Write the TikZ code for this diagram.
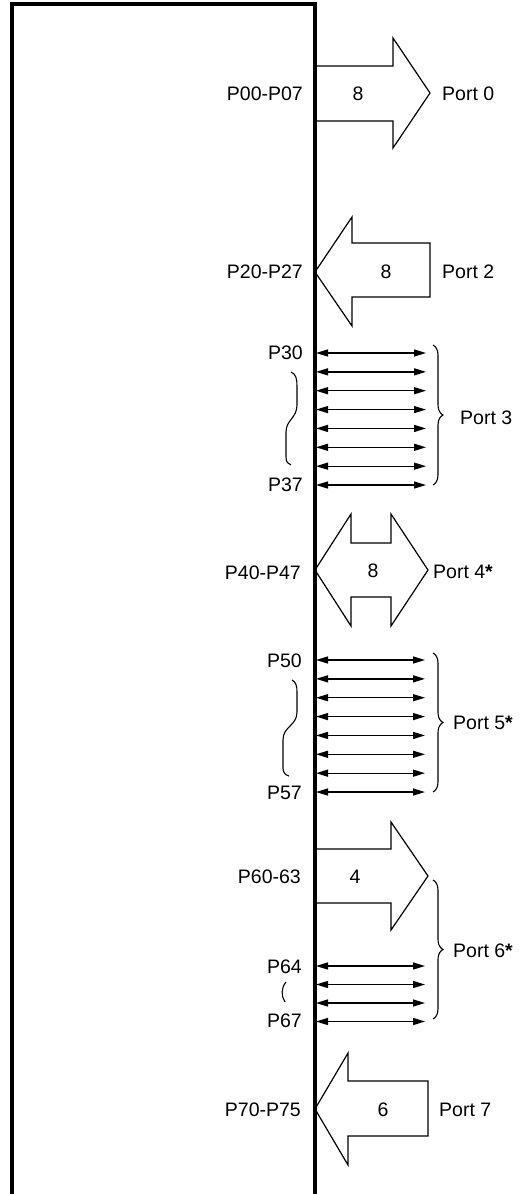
\documentclass[tikz,border=0pt]{standalone}
\usepackage{fontspec}
\setmainfont{Liberation Sans}
\usetikzlibrary{arrows.meta,decorations.pathreplacing}
\begin{document}
\begin{tikzpicture}[x=1bp,y=-1bp,
  lbl/.style={font=\fontsize{19.5bp}{23bp}\selectfont, inner sep=0pt},
  pinlbl/.style={lbl, anchor=east},
  portlbl/.style={lbl, anchor=west},
  numlbl/.style={lbl, anchor=center},
  bus/.style={line width=1.2bp, line join=miter},
  bidir/.style={line width=1.3bp, {Triangle[length=12bp,width=7bp]}-{Triangle[length=12bp,width=7bp]}},
  rbrace/.style={line width=1.1bp, decorate, decoration={brace, amplitude=10bp}},
  squig/.style={line width=1.1bp}]
\useasboundingbox (0,0) rectangle (522,1194);
% chip outline (open at the bottom)
\coordinate (chipBL) at (12,1200);
\coordinate (chipTL) at (12,4);
\coordinate (chipTR) at (315,4);
\coordinate (chipBR) at (315,1200);
\draw[line width=3.2bp] (chipBL) -- (chipTL) -- (chipTR) -- (chipBR);

% Port 0 : output bus
\draw[bus] (315,66) -- (393,66) -- (393,38) -- (430,93) -- (393,148) -- (393,121) -- (315,121);
\node[pinlbl] (p0pin) at (303,94) {P00-P07};
\node[numlbl] (p0num) at (358,94) {8};
\node[portlbl] (p0) at (442,94) {Port 0};

% Port 2 : input bus
\draw[bus] (315,272) -- (352,217) -- (352,243) -- (430,243) -- (430,297) -- (352,297) -- (352,326) -- cycle;
\node[pinlbl] (p2pin) at (303,272) {P20-P27};
\node[numlbl] (p2num) at (386,272) {8};
\node[portlbl] (p2) at (442,272) {Port 2};

% Port 3 : eight bidirectional lines
\foreach \i in {0,...,7}{
  \coordinate (p3l\i) at (316,353+18.86*\i);
  \coordinate (p3r\i) at (426,353+18.86*\i);
  \draw[bidir] (p3l\i) -- (p3r\i);
}
\node[pinlbl] (p30) at (303,353) {P30};
\node[pinlbl] (p37) at (303,485) {P37};
\draw[squig] (291,372) .. controls (296,374) and (297,379) .. (297,386) -- (297,405) .. controls (297,418) and (286,420) .. (286,432) -- (286,457) .. controls (286,462) and (288,464) .. (291,465);
\coordinate (b3t) at (433,345);
\coordinate (b3b) at (433,485);
\draw[rbrace] (b3t) -- (b3b);
\node[portlbl] (p3) at (460,418) {Port 3};

% Port 4 : bidirectional bus
\draw[bus] (315,570) -- (351,514) -- (351,543) -- (391,543) -- (391,514) -- (428,570) -- (391,626) -- (391,597) -- (351,597) -- (351,626) -- cycle;
\node[pinlbl] (p4pin) at (301,573) {P40-P47};
\node[numlbl] (p4num) at (373,571) {8};
\node[portlbl] (p4) at (433,572) {Port 4\textbf{*}};

% Port 5 : eight bidirectional lines
\foreach \i in {0,...,7}{
  \coordinate (p5l\i) at (316,660+18.86*\i);
  \coordinate (p5r\i) at (425,660+18.86*\i);
  \draw[bidir] (p5l\i) -- (p5r\i);
}
\node[pinlbl] (p50) at (302,661) {P50};
\node[pinlbl] (p57) at (302,793) {P57};
\draw[squig] (292,680) .. controls (296,682) and (297,686) .. (297,692) -- (297,712) .. controls (297,726) and (283,726) .. (283,740) -- (283,768) .. controls (283,772) and (285,775) .. (289,776);
\coordinate (b5t) at (433,653);
\coordinate (b5b) at (433,792);
\draw[rbrace] (b5t) -- (b5b);
\node[portlbl] (p5) at (453,723) {Port 5\textbf{*}};

% Port 6 : 4-bit output bus + four bidirectional lines
\draw[bus] (315,849) -- (391,849) -- (391,822) -- (428,876) -- (391,930) -- (391,903) -- (315,903);
\node[pinlbl] (p6pin) at (301,877) {P60-63};
\node[numlbl] (p6num) at (355,877) {4};
\foreach \i in {0,...,3}{
  \coordinate (p6l\i) at (316,966+18.5*\i);
  \coordinate (p6r\i) at (425,966+18.5*\i);
  \draw[bidir] (p6l\i) -- (p6r\i);
}
\node[pinlbl] (p64) at (302,967) {P64};
\node[pinlbl] (p67) at (302,1021) {P67};
\draw[squig] (286,982) .. controls (281,988) and (281,996) .. (285,1002);
\coordinate (b6t) at (433,880);
\coordinate (b6b) at (433,1019);
\draw[rbrace] (b6t) -- (b6b);
\node[portlbl] (p6) at (453,951) {Port 6\textbf{*}};

% Port 7 : input bus
\draw[bus] (315,1109) -- (348,1053) -- (348,1081) -- (428,1081) -- (428,1136) -- (348,1136) -- (348,1165) -- cycle;
\node[pinlbl] (p7pin) at (301,1110) {P70-P75};
\node[numlbl] (p7num) at (383,1110) {6};
\node[portlbl] (p7) at (439,1110) {Port 7};
\end{tikzpicture}
\end{document}
